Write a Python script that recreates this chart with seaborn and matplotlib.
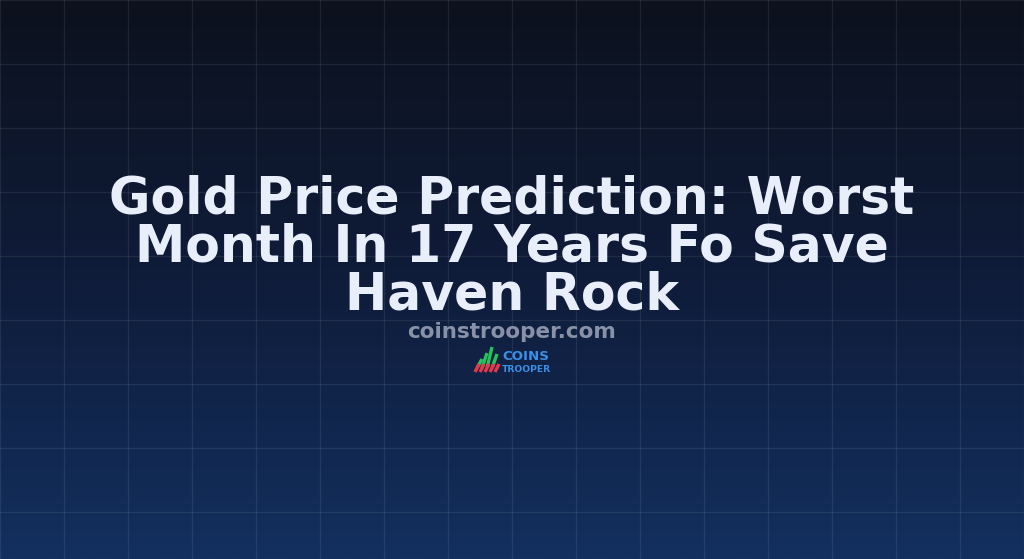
import numpy as np
import matplotlib
matplotlib.use("Agg")
import matplotlib.pyplot as plt
import seaborn as sns
from matplotlib.colors import LinearSegmentedColormap

# text content of the card
title_lines = ["Gold Price Prediction: Worst",
               "Month In 17 Years Fo Save",
               "Haven Rock"]
site_name = "coinstrooper.com"
logo_top = "COINS"
logo_bottom = "TROOPER"

W, H = 1024, 559
grid_step = 64

sns.set_style("dark")
plt.rcParams['font.family'] = ['DejaVu Sans']

fig = plt.figure(figsize=(W / 100, H / 100), dpi=100)
ax = fig.add_axes([0, 0, 1, 1])
ax.set_xlim(0, W)
ax.set_ylim(H, 0)

# vertical background gradient
bg = LinearSegmentedColormap.from_list("bg", ["#0c111d", "#0f1c3a", "#13305f"])
grad = np.linspace(0, 1, 256).reshape(-1, 1)
ax.imshow(grad, cmap=bg, aspect="auto", extent=[0, W, H, 0], zorder=0)

# faint grid
ax.set_xticks(np.arange(0, W + 1, grid_step))
ax.set_yticks(np.arange(0, H + 1, grid_step))
ax.grid(True, color="white", alpha=0.08, linewidth=0.9)
ax.tick_params(length=0, labelbottom=False, labelleft=False)
for s in ax.spines.values():
    s.set_visible(False)
ax.set_axisbelow(False)

# headline
txt_color = "#e9eefb"
for i, line in enumerate(title_lines):
    ax.text(W / 2, 213 + i * 48, line, ha="center", va="baseline",
            fontsize=36.4, fontweight="bold", color=txt_color, zorder=3)

ax.text(W / 2, 338, site_name, ha="center", va="baseline",
        fontsize=15.5, fontweight="bold", color="#8891a8", zorder=3)

# small logo: slanted stripes + wordmark
green_x = np.array([477, 482, 487, 492])
green_h = np.array([9, 15, 21, 14])
for x0, h in zip(green_x, green_h):
    ax.plot([x0, x0 + 5], [368, 368 - h], color="#27c35a", lw=2.4,
            solid_capstyle="butt", zorder=3)
red_x = np.array([475, 480, 485, 490, 495])
for x0 in red_x:
    ax.plot([x0, x0 + 4], [372, 364], color="#e8374a", lw=2.4,
            solid_capstyle="butt", zorder=4)
ax.text(502, 360, logo_top, ha="left", va="baseline", fontsize=9.6,
        fontweight="bold", color="#3a8fe8", zorder=3)
ax.text(502, 372, logo_bottom, ha="left", va="baseline", fontsize=6.6,
        fontweight="bold", color="#3a8fe8", zorder=3)

fig.savefig("out.png", dpi=100)
